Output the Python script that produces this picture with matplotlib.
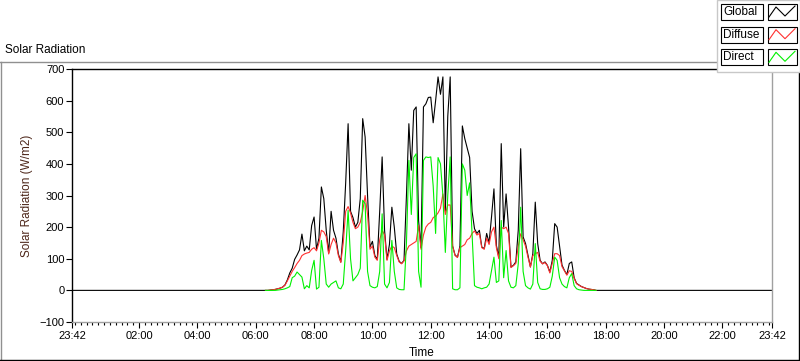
import numpy as np
import matplotlib
matplotlib.use("Agg")
import matplotlib.pyplot as plt
from matplotlib.lines import Line2D
from matplotlib.patches import Rectangle
from matplotlib.ticker import FixedLocator, MultipleLocator

plt.rcParams['font.family'] = ['Liberation Sans', 'DejaVu Sans']

# 5-minute samples from 06:20 to 17:40 (W/m2)
start_hour = 6 + 20 / 60
step_min = 5

global_wm2 = [
    0, 0, 1, 2, 3, 5, 7, 10, 17, 33, 55, 70, 98, 112, 128, 178, 125, 140, 128, 205,
    232, 130, 165, 327, 290, 190, 118, 250, 190, 165, 115, 90, 185, 340, 527, 250, 230, 200, 215, 290,
    543, 485, 300, 137, 155, 110, 98, 250, 422, 190, 98, 145, 263, 200, 115, 92, 85, 95, 300, 527,
    380, 569, 580, 220, 135, 580, 590, 610, 611, 530, 600, 675, 620, 675, 250, 550, 675, 140, 112, 105,
    140, 520, 480, 450, 420, 250, 195, 180, 190, 137, 132, 180, 150, 232, 321, 142, 105, 464, 200, 305,
    200, 74, 79, 90, 190, 448, 169, 148, 111, 74, 116, 279, 148, 95, 84, 90, 79, 58, 95, 211,
    200, 140, 80, 63, 50, 85, 90, 40, 22, 17, 12, 9, 6, 4, 3, 2, 0,
]
diffuse_wm2 = [
    0, 0, 1, 2, 3, 5, 7, 10, 16, 30, 45, 60, 72, 85, 95, 110, 115, 118, 120, 130,
    135, 125, 150, 190, 185, 170, 115, 145, 165, 150, 110, 88, 150, 250, 265, 245, 215, 195, 200, 215,
    250, 300, 240, 130, 140, 105, 95, 160, 190, 175, 95, 125, 140, 135, 110, 90, 84, 93, 125, 140,
    145, 150, 155, 205, 130, 175, 200, 210, 215, 230, 235, 245, 260, 305, 240, 270, 270, 140, 110, 104,
    135, 140, 145, 160, 165, 180, 188, 175, 180, 135, 130, 165, 145, 185, 200, 135, 100, 200, 195, 200,
    180, 72, 78, 85, 140, 179, 160, 140, 105, 74, 110, 116, 120, 92, 84, 88, 78, 55, 85, 116,
    116, 110, 75, 62, 48, 62, 60, 38, 21, 16, 12, 9, 6, 4, 3, 2, 0,
]
direct_wm2 = [
    0, 0, 0, 0, 0, 1, 2, 3, 5, 8, 12, 40, 45, 58, 50, 42, 5, 15, 8, 63,
    95, 4, 10, 158, 100, 20, 10, 20, 25, 30, 8, 5, 20, 126, 253, 100, 30, 40, 50, 70,
    285, 274, 60, 15, 10, 8, 12, 60, 242, 20, 8, 25, 158, 60, 8, 3, 2, 2, 150, 411,
    240, 420, 432, 60, 10, 411, 422, 420, 422, 330, 180, 420, 400, 300, 120, 300, 422, 5, 2, 2,
    8, 400, 380, 300, 340, 180, 15, 10, 8, 5, 8, 10, 20, 63, 105, 25, 30, 221, 40, 126,
    30, 10, 8, 15, 84, 263, 60, 15, 8, 4, 20, 148, 25, 5, 3, 3, 5, 10, 45, 105,
    95, 40, 20, 12, 8, 40, 53, 15, 5, 2, 1, 0, 0, 0, 0, 0, 0,
]

x_start, x_end = -0.3, 23.7  # 23:42 previous day to 23:42
x_ticks = [-0.3, 2, 4, 6, 8, 10, 12, 14, 16, 18, 20, 22, 23.7]
x_labels = ["23:42", "02:00", "04:00", "06:00", "08:00", "10:00", "12:00",
            "14:00", "16:00", "18:00", "20:00", "22:00", "23:42"]
y_ticks = [-100, 0, 100, 200, 300, 400, 500, 600, 700]
series_names = ["Global", "Diffuse", "Direct"]
series_colors = ["black", "#ff3030", "#00f000"]

W, H = 800, 361
fig = plt.figure(figsize=(W / 100, H / 100), dpi=100)


def fx(px):
    return px / W


def fy(py):
    return 1 - py / H


ax = fig.add_axes([fx(72), fy(322), (772 - 72) / W, (322 - 69) / H])

t = start_hour + np.arange(len(global_wm2)) * step_min / 60
t_full = np.concatenate([[x_start], t, [x_end]])
g_full = [0] + global_wm2 + [0]

ax.plot(t_full, g_full, color=series_colors[0], lw=0.8)
ax.plot(t, diffuse_wm2, color=series_colors[1], lw=0.8)
ax.plot(t, direct_wm2, color=series_colors[2], lw=0.8)

ax.set_xlim(x_start, x_end)
ax.set_ylim(-100, 700)
ax.xaxis.set_major_locator(FixedLocator(x_ticks))
ax.set_xticklabels(x_labels)
ax.xaxis.set_minor_locator(MultipleLocator(0.2))
ax.set_yticks(y_ticks)

ax.tick_params(axis='both', which='major', direction='out', length=4, width=0.8,
               labelsize=8, pad=1.5, colors='black')
ax.tick_params(axis='x', which='minor', direction='out', length=2, width=0.8)
ax.tick_params(axis='x', which='major', pad=2.5)

for side in ['left', 'top']:
    ax.spines[side].set_color('black')
    ax.spines[side].set_linewidth(1)
for side in ['right', 'bottom']:
    ax.spines[side].set_color('#a0a0a0')
    ax.spines[side].set_linewidth(1)

ax.set_ylabel("Solar Radiation (W/m2)", fontsize=8.5, color='#4d2619')
ax.yaxis.set_label_coords((33 - 72) / 700, 0.5)
ax.set_xlabel("Time", fontsize=8.5)
ax.xaxis.set_label_coords(0.5, -(353 - 322) / 253)
ax.xaxis.label.set_va('center')

# panel title and frame
fig.text(fx(5), fy(50), "Solar Radiation", fontsize=8.5, ha='left', va='center')
fig.add_artist(Line2D([fx(0), fx(717)], [fy(62), fy(62)], color='#909090', lw=1))
fig.add_artist(Line2D([fx(1), fx(1)], [fy(62), fy(360)], color='#909090', lw=1))
fig.add_artist(Line2D([fx(0), fx(799)], [fy(360), fy(360)], color='black', lw=1))
fig.add_artist(Line2D([fx(799), fx(799)], [fy(72), fy(360)], color='black', lw=1))

# legend panel (covers the plot corner)
fig.add_artist(Rectangle((fx(717), fy(72)), fx(800) - fx(717), fy(0) - fy(72),
                         transform=fig.transFigure, facecolor='white',
                         edgecolor='#c8c8c8', lw=1, zorder=5))
row_tops = [4, 26.7, 49.3]
for name, color, top in zip(series_names, series_colors, row_tops):
    bot = top + 16
    fig.add_artist(Rectangle((fx(720.7), fy(bot)), fx(763.3) - fx(720.7), fy(top) - fy(bot),
                             transform=fig.transFigure, facecolor='white',
                             edgecolor='black', lw=0.8, zorder=6))
    fig.text(fx(723), fy(top + 8), name, fontsize=8.5, ha='left', va='center', zorder=7)
    fig.add_artist(Rectangle((fx(767.7), fy(bot)), fx(796.7) - fx(767.7), fy(top) - fy(bot),
                             transform=fig.transFigure, facecolor='white',
                             edgecolor='black', lw=0.8, zorder=6))
    zx = [769, 776, 785, 795]
    zy = [top + 13, top + 3, top + 12, top + 2]
    fig.add_artist(Line2D([fx(v) for v in zx], [fy(v) for v in zy],
                          color=color, lw=0.8, zorder=7))

fig.savefig("out.png", dpi=100)
